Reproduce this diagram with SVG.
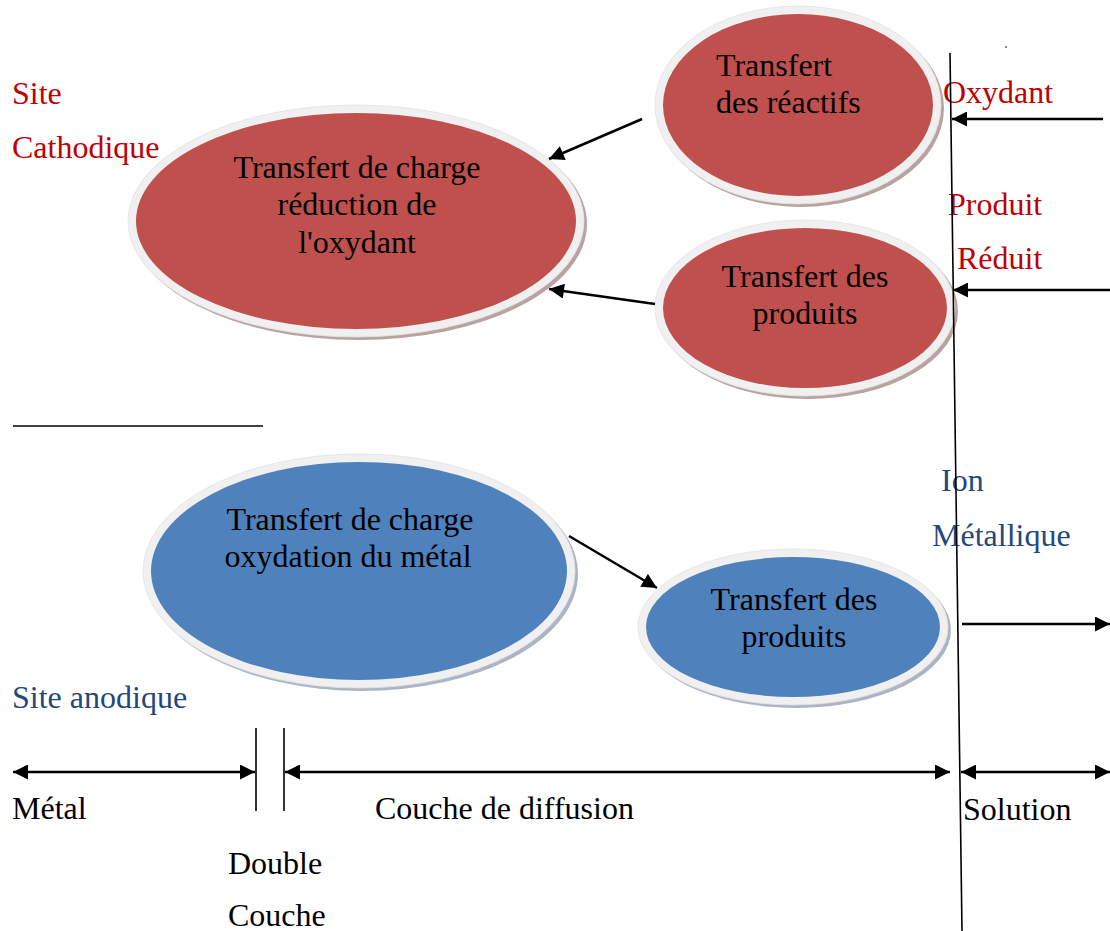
<svg xmlns="http://www.w3.org/2000/svg" width="1110" height="931" viewBox="0 0 1110 931">
<defs>
<style>
text{font-family:"Liberation Serif","Times New Roman",serif;font-size:32px;}
.blk{fill:#000}
.red{fill:#C00000}
.blu{fill:#1F497D}
.rim{fill:#F0F0F0;stroke:#E2E2E2;stroke-width:0.8}
.shR{fill:#9A7A7A;opacity:0.7}
.shB{fill:#8796AE;opacity:0.7}
.fR{fill:#C0504D}
.fB{fill:#4F81BD}
.ln{stroke:#000;stroke-width:2.5;fill:none}
.thin{stroke:#000;stroke-width:1.6;fill:none}
</style>
<marker id="ah" viewBox="0 0 10 10" refX="10" refY="5" markerWidth="16" markerHeight="15" markerUnits="userSpaceOnUse" orient="auto-start-reverse">
<path d="M0,0 L10,5 L0,10 z" fill="#000"/>
</marker>
</defs>
<rect width="1110" height="931" fill="#fff"/>

<g id="labels">
<text class="red" x="12" y="104">Site</text>
<text class="red" x="12" y="158">Cathodique</text>
<text class="red" x="943" y="103">Oxydant</text>
<text class="red" x="948" y="215">Produit</text>
<text class="red" x="957" y="269">Réduit</text>
<text class="blu" x="941" y="491">Ion</text>
<text class="blu" x="932" y="546">Métallique</text>
<text class="blu" x="12" y="708">Site anodique</text>
<text class="blk" x="12" y="819">Métal</text>
<text class="blk" x="375" y="819">Couche de diffusion</text>
<text class="blk" x="963" y="820">Solution</text>
<text class="blk" x="228" y="874">Double</text>
<text class="blk" x="228" y="926">Couche</text>
</g>

<g id="node-charge-reduction">
<ellipse class="shR" cx="359" cy="224" rx="228" ry="116"/>
<ellipse class="rim" cx="356" cy="221" rx="228" ry="116"/>
<ellipse class="fR" cx="356" cy="221" rx="220" ry="108"/>
<text class="blk" x="357" y="178" text-anchor="middle">Transfert de charge</text>
<text class="blk" x="357" y="215" text-anchor="middle">réduction de</text>
<text class="blk" x="357" y="253" text-anchor="middle">l'oxydant</text>
</g>

<g id="node-transfert-reactifs">
<ellipse class="shR" cx="801" cy="108" rx="143" ry="99"/>
<ellipse class="rim" cx="798" cy="105" rx="143" ry="99"/>
<ellipse class="fR" cx="798" cy="105" rx="135" ry="91"/>
<text class="blk" x="716" y="76">Transfert</text>
<text class="blk" x="716" y="113">des réactifs</text>
</g>

<g id="node-transfert-produits-red">
<ellipse class="shR" cx="808" cy="311" rx="150" ry="88"/>
<ellipse class="rim" cx="805" cy="308" rx="150" ry="88"/>
<ellipse class="fR" cx="805" cy="308" rx="142" ry="80"/>
<text class="blk" x="805" y="287" text-anchor="middle">Transfert des</text>
<text class="blk" x="805" y="324" text-anchor="middle">produits</text>
</g>

<g id="node-charge-oxydation">
<ellipse class="shB" cx="362" cy="574" rx="216" ry="117"/>
<ellipse class="rim" cx="359" cy="571" rx="216" ry="117"/>
<ellipse class="fB" cx="359" cy="571" rx="208" ry="109"/>
<text class="blk" x="350" y="530" text-anchor="middle">Transfert de charge</text>
<text class="blk" x="348" y="567" text-anchor="middle">oxydation du métal</text>
</g>

<g id="node-transfert-produits-blue">
<ellipse class="shB" cx="796" cy="630" rx="155" ry="78"/>
<ellipse class="rim" cx="793" cy="627" rx="155" ry="78"/>
<ellipse class="fB" cx="793" cy="627" rx="147" ry="70"/>
<text class="blk" x="794" y="610" text-anchor="middle">Transfert des</text>
<text class="blk" x="794" y="647" text-anchor="middle">produits</text>
</g>

<g id="connectors">
<line class="thin" x1="950" y1="53" x2="962" y2="931"/>
<line class="thin" x1="13" y1="426" x2="263" y2="426"/>
<line class="thin" x1="256" y1="728" x2="256" y2="811"/>
<line class="thin" x1="284" y1="728" x2="284" y2="811"/>
<circle cx="1006" cy="47" r="0.8" fill="#000"/>
<line class="ln" x1="1103" y1="119" x2="952" y2="119" marker-end="url(#ah)"/>
<line class="ln" x1="1110" y1="290" x2="953" y2="290" marker-end="url(#ah)"/>
<line class="ln" x1="962" y1="624" x2="1110" y2="624" marker-end="url(#ah)"/>
<line class="ln" x1="642" y1="119" x2="549" y2="159" marker-end="url(#ah)"/>
<line class="ln" x1="655" y1="304" x2="549" y2="289" marker-end="url(#ah)"/>
<line class="ln" x1="569" y1="536" x2="657" y2="588" marker-end="url(#ah)"/>
<line class="ln" x1="13" y1="772" x2="255" y2="772" marker-start="url(#ah)" marker-end="url(#ah)"/>
<line class="ln" x1="285" y1="772" x2="950" y2="772" marker-start="url(#ah)" marker-end="url(#ah)"/>
<line class="ln" x1="961" y1="772" x2="1110" y2="772" marker-start="url(#ah)" marker-end="url(#ah)"/>
</g>
</svg>
